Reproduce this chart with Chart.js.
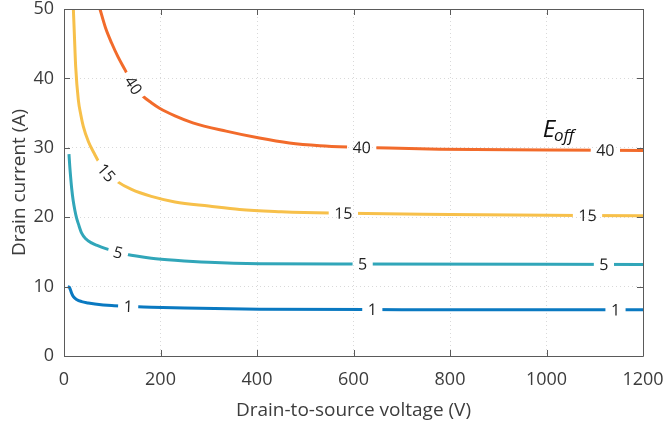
<!DOCTYPE html>
<html>
<head>
<meta charset="utf-8">
<script src="https://cdn.jsdelivr.net/npm/chart.js@4.4.1/dist/chart.umd.min.js"></script>
<style>
    html, body { margin: 0; padding: 0; background: #fff; }
    #wrap { width: 663px; height: 423px; position: relative; }
</style>
</head>
<body>
<div id="wrap"><canvas id="eoffChart"></canvas></div>
<script>
// Eoff contour levels
const levels = ['1', '5', '15', '40']
const levelColors = ['#0A79C1', '#31A6B9', '#F7C04A', '#F26B2B']

// drain-to-source voltage (V) / drain current (A) for each contour
const vE1 = [7.7, 11, 13, 15.5, 19.4, 26, 36.6, 50, 64, 99, 133, 154, 181, 250, 405, 700, 1200]
const iE1 = [10.0, 9.9, 9.6, 9.1, 8.55, 8.15, 7.84, 7.65, 7.5, 7.26, 7.15, 7.1, 7.03, 6.9, 6.75, 6.68, 6.65]

const vE5 = [10.3, 12, 14, 16, 19, 22.8, 26, 30, 36.6, 45, 57, 70, 85, 112, 126, 150, 181, 230, 300, 405, 600, 1200]
const iE5 = [29.1, 27.3, 25.6, 24.1, 22.4, 20.9, 19.9, 19.0, 17.7, 16.9, 16.3, 15.9, 15.5, 14.9, 14.7, 14.4, 14.1, 13.8, 13.5, 13.3, 13.25, 13.2]

const vE15 = [19.4, 21.5, 24.2, 29.7, 35, 40, 50.5, 64, 71, 88, 109, 140, 181, 230, 300, 364, 450, 550, 800, 1200]
const iE15 = [50, 46.3, 41.7, 36.9, 34.7, 33.1, 30.9, 29.0, 28.1, 26.4, 25.2, 24.0, 23.0, 22.2, 21.6, 21.1, 20.8, 20.6, 20.4, 20.2]

const vE40 = [74.5, 86, 98.7, 112, 126, 144, 164, 181, 198, 230, 267, 336, 405, 467, 530, 591, 646, 778, 1005, 1200]
const iE40 = [50, 47.3, 45.1, 43.1, 41.3, 39.0, 37.4, 36.5, 35.7, 34.6, 33.6, 32.4, 31.4, 30.7, 30.3, 30.1, 30.0, 29.8, 29.7, 29.6]

// voltages where the level labels sit on each contour
const labelV1 = [133, 639, 1143]
const labelV5 = [112, 619, 1119]
const labelV15 = [88, 579, 1085]
const labelV40 = [144, 617, 1122]

// axis ticks
const xTicks = [0, 200, 400, 600, 800, 1000, 1200]
const yTicks = [0, 10, 20, 30, 40, 50]

const FONT = '"Open Sans", "Noto Sans", sans-serif'
const TEXT = '#3c3c3c'

const curves = [
    { v: vE1, i: iE1, lv: labelV1 },
    { v: vE5, i: iE5, lv: labelV5 },
    { v: vE15, i: iE15, lv: labelV15 },
    { v: vE40, i: iE40, lv: labelV40 }
]

function toPoints(v, i) {
    return v.map((x, k) => ({ x: x, y: i[k] }))
}

// linear interpolation along the drawn points (pixel space)
function pointAtPx(pts, px) {
    for (let k = 0; k < pts.length - 1; k++) {
        const a = pts[k], b = pts[k + 1]
        if (px >= a.x && px <= b.x) {
            const t = (px - a.x) / (b.x - a.x || 1)
            return { x: px, y: a.y + t * (b.y - a.y) }
        }
    }
    const last = pts[pts.length - 1]
    return { x: px, y: last.y }
}

function buildLabels(chart) {
    const ctx = chart.ctx
    const out = []
    ctx.save()
    ctx.font = '16px ' + FONT
    curves.forEach((c, di) => {
        const pts = chart.getDatasetMeta(di).data.map((p) => ({ x: p.x, y: p.y }))
        const tw = ctx.measureText(levels[di]).width
        c.lv.forEach((v) => {
            const px = chart.scales.x.getPixelForValue(v)
            const p = pointAtPx(pts, px)
            const p1 = pointAtPx(pts, px - 5)
            const p2 = pointAtPx(pts, px + 5)
            const a = Math.atan2(p2.y - p1.y, p2.x - p1.x)
            out.push({ x: p.x, y: p.y, a: a, w: tw + 11, h: 16, text: levels[di] })
        })
    })
    ctx.restore()
    return out
}

const contourLabels = {
    id: 'contourLabels',
    beforeDatasetsDraw(chart) {
        const ctx = chart.ctx
        chart.$labels = buildLabels(chart)
        ctx.save()
        ctx.beginPath()
        ctx.rect(0, 0, chart.width, chart.height)
        chart.$labels.forEach((l) => {
            const c = Math.cos(l.a), s = Math.sin(l.a)
            const hw = l.w / 2, hh = l.h / 2
            const corners = [[-hw, -hh], [hw, -hh], [hw, hh], [-hw, hh]]
            corners.forEach(([dx, dy], k) => {
                const x = l.x + dx * c - dy * s
                const y = l.y + dx * s + dy * c
                if (k) ctx.lineTo(x, y)
                else ctx.moveTo(x, y)
            })
            ctx.closePath()
        })
        ctx.clip('evenodd')
    },
    afterDatasetsDraw(chart) {
        const ctx = chart.ctx
        ctx.restore()

        ctx.save()
        ctx.font = '16px ' + FONT
        ctx.fillStyle = '#222'
        ctx.textAlign = 'center'
        ctx.textBaseline = 'middle'
        chart.$labels.forEach((l) => {
            ctx.save()
            ctx.translate(l.x, l.y)
            ctx.rotate(l.a)
            ctx.fillText(l.text, 0, 1)
            ctx.restore()
        })
        ctx.restore()
    }
}

// box round the plot with inward ticks on all sides, plus the Eoff note
const boxAndNote = {
    id: 'boxAndNote',
    afterDraw(chart) {
        const ctx = chart.ctx
        const { left, right, top, bottom } = chart.chartArea
        const xs = chart.scales.x, ys = chart.scales.y
        const L = 6
        ctx.save()
        ctx.strokeStyle = '#5a5a5a'
        ctx.lineWidth = 1
        ctx.beginPath()
        ctx.rect(Math.round(left) + 0.5, Math.round(top) + 0.5, Math.round(right - left), Math.round(bottom - top))
        xTicks.forEach((t) => {
            const x = Math.round(xs.getPixelForValue(t)) + 0.5
            ctx.moveTo(x, bottom); ctx.lineTo(x, bottom - L)
            ctx.moveTo(x, top); ctx.lineTo(x, top + L)
        })
        yTicks.forEach((t) => {
            const y = Math.round(ys.getPixelForValue(t)) + 0.5
            ctx.moveTo(left, y); ctx.lineTo(left + L, y)
            ctx.moveTo(right, y); ctx.lineTo(right - L, y)
        })
        ctx.stroke()

        // E_off
        ctx.fillStyle = '#111'
        ctx.textBaseline = 'alphabetic'
        ctx.textAlign = 'left'
        ctx.font = 'italic 24px ' + FONT
        const ex = xs.getPixelForValue(992)
        const ey = ys.getPixelForValue(31.5)
        ctx.fillText('E', ex, ey)
        const ew = ctx.measureText('E').width
        ctx.font = 'italic 17px ' + FONT
        ctx.fillText('off', ex + ew - 1, ey + 4)
        ctx.restore()
    }
}

document.addEventListener('DOMContentLoaded', () => {
    const el = document.getElementById('eoffChart')

    new Chart(el, {
        type: 'line',
        data: {
            datasets: curves.map((c, k) => ({
                label: levels[k],
                data: toPoints(c.v, c.i),
                borderColor: levelColors[k],
                borderWidth: 3,
                pointRadius: 0,
                fill: false,
                cubicInterpolationMode: 'monotone'
            }))
        },
        options: {
            responsive: true,
            maintainAspectRatio: false,
            animation: false,
            layout: { padding: { left: 0, right: 20, top: 9, bottom: 0 } },
            plugins: {
                legend: { display: false },
                tooltip: { enabled: false }
            },
            scales: {
                x: {
                    type: 'linear',
                    min: 0,
                    max: 1200,
                    afterBuildTicks: (s) => { s.ticks = xTicks.map((v) => ({ value: v })) },
                    afterFit: (s) => {
                        s.height = 67
                        s.paddingLeft = 0
                        s.paddingRight = 0
                    },
                    grid: { color: '#d9d9d9', lineWidth: 1, drawTicks: false },
                    border: { display: false, dash: [1, 3] },
                    ticks: {
                        padding: 13,
                        color: TEXT,
                        font: { family: FONT, size: 18 },
                        maxRotation: 0,
                        callback: (v) => String(v)
                    },
                    title: {
                        display: true,
                        text: 'Drain-to-source voltage (V)',
                        color: TEXT,
                        font: { family: FONT, size: 19 },
                        padding: { top: 0, bottom: 1 }
                    }
                },
                y: {
                    type: 'linear',
                    min: 0,
                    max: 50,
                    afterBuildTicks: (s) => { s.ticks = yTicks.map((v) => ({ value: v })) },
                    afterFit: (s) => {
                        s.width = 64
                        s.paddingTop = 0
                        s.paddingBottom = 0
                    },
                    grid: { color: '#d9d9d9', lineWidth: 1, drawTicks: false },
                    border: { display: false, dash: [1, 3] },
                    ticks: {
                        padding: 10,
                        color: TEXT,
                        font: { family: FONT, size: 18 },
                        callback: (v) => String(v)
                    },
                    title: {
                        display: true,
                        text: 'Drain current (A)',
                        color: TEXT,
                        font: { family: FONT, size: 19 },
                        padding: { top: 8, bottom: 0 }
                    }
                }
            }
        },
        plugins: [contourLabels, boxAndNote]
    })
})
</script>
</body>
</html>
